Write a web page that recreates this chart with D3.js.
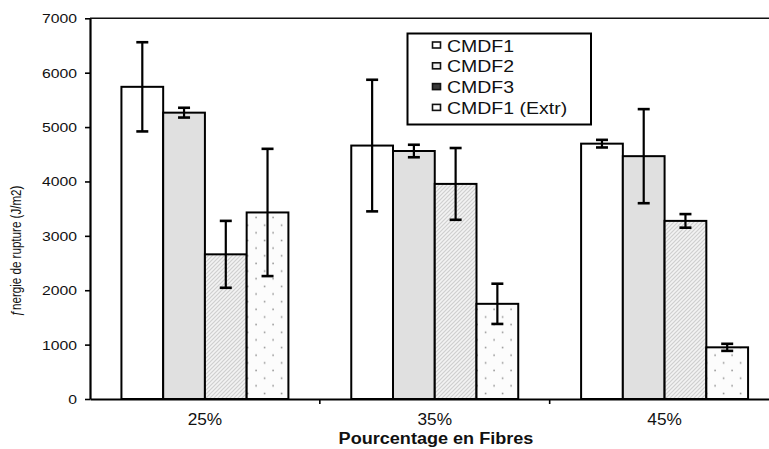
<!DOCTYPE html>
<html>
<head>
<meta charset="utf-8">
<script src="https://cdn.jsdelivr.net/npm/d3@7"></script>
<style>
  body { margin: 0; background: #fff; }
  svg { display: block; font-family: "Liberation Sans", Arial, sans-serif; }
</style>
</head>
<body>
<svg id="chart" width="769" height="449"></svg>
<script>
// Fibre content groups
const categories = ["25%", "35%", "45%"];
const seriesNames = ["CMDF1", "CMDF2", "CMDF3", "CMDF1 (Extr)"];

// Fracture energy (J/m2) and standard deviations, per series
const cmdf1 = [5740, 4660, 4695];
const cmdf1Err = [820, 1210, 70];
const cmdf2 = [5265, 4560, 4465];
const cmdf2Err = [90, 115, 865];
const cmdf3 = [2660, 3955, 3275];
const cmdf3Err = [615, 660, 125];
const cmdf1Extr = [3430, 1750, 950];
const cmdf1ExtrErr = [1170, 370, 65];

const yTicks = [0, 1000, 2000, 3000, 4000, 5000, 6000, 7000];

const seriesValues = [cmdf1, cmdf2, cmdf3, cmdf1Extr];
const seriesErrors = [cmdf1Err, cmdf2Err, cmdf3Err, cmdf1ExtrErr];

const rows = [];
categories.forEach((c, ci) => {
  seriesNames.forEach((s, si) => {
    rows.push({ cat: c, series: s, si, value: seriesValues[si][ci], err: seriesErrors[si][ci] });
  });
});

const svg = d3.select("#chart");
const W = 769;
const plot = { left: 90, top: 18.3, right: 779.5, bottom: 399 };

// Fill patterns
const defs = svg.append("defs");
const hatch = defs.append("pattern")
  .attr("id", "hatch").attr("patternUnits", "userSpaceOnUse")
  .attr("width", 4).attr("height", 4);
hatch.append("rect").attr("width", 4).attr("height", 4).attr("fill", "#f3f3f3");
hatch.append("path")
  .attr("d", "M-1,1 l2,-2 M0,4 l4,-4 M3,5 l2,-2")
  .attr("stroke", "#cfcfcf").attr("stroke-width", 1.2);

const dots = defs.append("pattern")
  .attr("id", "dots").attr("patternUnits", "userSpaceOnUse")
  .attr("width", 17).attr("height", 15.3);
dots.append("rect").attr("width", 17).attr("height", 15.3).attr("fill", "#fcfcfc");
dots.append("rect").attr("x", 0.3).attr("y", 2.5).attr("width", 1.6).attr("height", 1.6).attr("fill", "#9a9a9a");
dots.append("rect").attr("x", 8.8).attr("y", 10.2).attr("width", 1.6).attr("height", 1.6).attr("fill", "#9a9a9a");

const fills = ["#ffffff", "#e0e0e0", "url(#hatch)", "url(#dots)"];
const markerFills = ["#ffffff", "#eeeeee", "#3a3a3a", "#ffffff"];

// Scales
const x0 = d3.scaleBand().domain(categories).range([plot.left, plot.right]).paddingInner(0).paddingOuter(0);
const x1 = d3.scaleBand().domain(seriesNames).range([0, x0.bandwidth()]).paddingInner(0).paddingOuter(0.753);
const y = d3.scaleLinear().domain([0, 7000]).range([plot.bottom, plot.top]);

// Top frame line
svg.append("line")
  .attr("x1", plot.left).attr("x2", W)
  .attr("y1", y(7000)).attr("y2", y(7000))
  .attr("stroke", "#111").attr("stroke-width", 1.6);

// Bars
svg.append("g").selectAll("rect")
  .data(rows).join("rect")
  .attr("x", d => x0(d.cat) + x1(d.series))
  .attr("y", d => y(d.value))
  .attr("width", x1.bandwidth())
  .attr("height", d => y(0) - y(d.value))
  .attr("fill", d => fills[d.si])
  .attr("stroke", "#000").attr("stroke-width", 2);

// Error bars
const capW = 6;
const eb = svg.append("g").attr("stroke", "#000").attr("stroke-width", 2.2);
rows.forEach(d => {
  const cx = x0(d.cat) + x1(d.series) + x1.bandwidth() / 2;
  const yt = y(d.value + d.err), yb = y(d.value - d.err);
  eb.append("line").attr("x1", cx).attr("x2", cx).attr("y1", yt).attr("y2", yb);
  eb.append("line").attr("x1", cx - capW).attr("x2", cx + capW).attr("y1", yt).attr("y2", yt).attr("stroke-width", 2.6);
  eb.append("line").attr("x1", cx - capW).attr("x2", cx + capW).attr("y1", yb).attr("y2", yb).attr("stroke-width", 2.6);
});

// Y axis
const yAxis = svg.append("g")
  .attr("transform", `translate(${plot.left},0)`)
  .call(d3.axisLeft(y).tickValues(yTicks).tickSize(5).tickSizeOuter(0).tickFormat(d3.format("d")));
yAxis.select(".domain").attr("stroke", "#000").attr("stroke-width", 2.2);
yAxis.selectAll(".tick line").attr("stroke", "#000").attr("stroke-width", 1.6);
yAxis.selectAll(".tick text")
  .attr("font-family", "'Liberation Sans', Arial, sans-serif")
  .attr("font-size", 12.4).attr("fill", "#111")
  .attr("x", -13 / 1.27).attr("dy", "0.36em")
  .attr("transform", "scale(1.27,1)");

// X axis
const xAxis = svg.append("g")
  .attr("transform", `translate(0,${plot.bottom})`)
  .call(d3.axisBottom(x0).tickSize(0).tickSizeOuter(0));
xAxis.select(".domain").attr("stroke", "#000").attr("stroke-width", 1.8);
xAxis.selectAll(".tick text")
  .attr("font-family", "'Liberation Sans', Arial, sans-serif")
  .attr("font-size", 16).attr("fill", "#111")
  .attr("y", 26).attr("dy", null)
  .attr("transform", "scale(1.08,1)");

// Tick marks between groups
svg.append("g").selectAll("line")
  .data(categories.slice(0, -1)).join("line")
  .attr("x1", d => x0(d) + x0.bandwidth()).attr("x2", d => x0(d) + x0.bandwidth())
  .attr("y1", plot.bottom).attr("y2", plot.bottom + 5)
  .attr("stroke", "#000").attr("stroke-width", 1.6);

// Axis titles
svg.append("text")
  .attr("transform", `translate(436,444) scale(1.13,1)`)
  .attr("text-anchor", "middle")
  .attr("font-size", 16).attr("font-weight", "bold").attr("fill", "#111")
  .text("Pourcentage en Fibres");

svg.append("text")
  .attr("transform", `translate(21,251) rotate(-90) scale(1,1.3)`)
  .attr("text-anchor", "middle")
  .attr("font-size", 11.6).attr("fill", "#111")
  .text("ƒnergie de rupture (J/m2)");

// Legend
const lg = svg.append("g");
lg.append("rect")
  .attr("x", 407.5).attr("y", 33.5).attr("width", 183.5).attr("height", 91)
  .attr("fill", "#fff").attr("stroke", "#000").attr("stroke-width", 2);
seriesNames.forEach((s, i) => {
  const by = 51.5 + i * 20.8;
  lg.append("rect")
    .attr("x", 432.5).attr("y", by - 9.5).attr("width", 8).attr("height", 6)
    .attr("fill", markerFills[i]).attr("stroke", "#111").attr("stroke-width", 1.6);
  lg.append("text")
    .attr("transform", `translate(447,${by}) scale(1.25,1)`)
    .attr("font-size", 15.6).attr("fill", "#111")
    .text(s);
});
</script>
</body>
</html>
